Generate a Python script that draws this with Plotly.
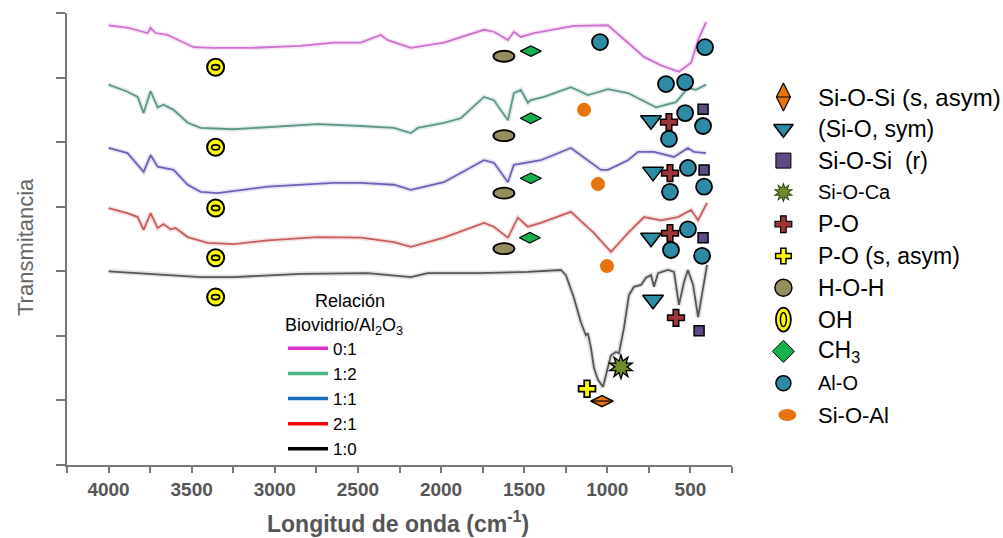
import plotly.graph_objects as go

W, H = 1003, 538

# ---------------- FTIR spectra (wavenumber cm^-1, offset transmittance a.u.) ----------------
wn_01 = [4000, 3880, 3765, 3747, 3717, 3645, 3555, 3488, 3368, 3145, 2844, 2646, 2483, 2363, 2320,
         2182, 1983, 1742, 1682, 1598, 1562, 1520, 1442, 1279, 1201, 996, 876, 779, 677, 569, 496, 454, 406]
t_01 = [6.81, 6.77, 6.69, 6.77, 6.69, 6.66, 6.55, 6.47, 6.46, 6.46, 6.49, 6.54, 6.54, 6.66, 6.58,
        6.46, 6.54, 6.74, 6.71, 6.58, 6.71, 6.63, 6.69, 6.77, 6.80, 6.81, 6.54, 6.32, 6.19, 6.09, 6.23, 6.58, 6.86]

wn_12 = [4000, 3886, 3825, 3789, 3747, 3705, 3669, 3609, 3524, 3446, 3248, 3043, 2742, 2483, 2284, 2182,
         2140, 1983, 1881, 1742, 1682, 1598, 1562, 1520, 1478, 1460, 1381, 1219, 1116, 996, 876, 707, 587,
         515, 467, 406]
t_12 = [5.89, 5.78, 5.70, 5.45, 5.79, 5.54, 5.58, 5.50, 5.30, 5.22, 5.20, 5.23, 5.28, 5.25, 5.22, 5.14,
        5.22, 5.30, 5.37, 5.70, 5.65, 5.34, 5.76, 5.81, 5.61, 5.65, 5.70, 5.85, 5.73, 5.82, 5.76, 5.54, 5.62,
        5.84, 5.81, 5.89]

wn_11 = [4000, 3886, 3789, 3747, 3705, 3609, 3524, 3446, 3344, 3043, 2646, 2483, 2284, 2182, 1983, 1742,
         1682, 1598, 1562, 1478, 1400, 1219, 1038, 996, 876, 815, 719, 599, 515, 479, 406]
t_11 = [4.91, 4.83, 4.54, 4.80, 4.62, 4.57, 4.34, 4.23, 4.21, 4.31, 4.37, 4.37, 4.34, 4.26, 4.38, 4.72,
        4.68, 4.38, 4.65, 4.69, 4.72, 4.91, 4.57, 4.57, 4.72, 4.85, 4.85, 4.77, 4.91, 4.85, 4.83]

wn_21 = [4000, 3886, 3825, 3789, 3747, 3705, 3669, 3627, 3597, 3524, 3404, 3248, 3043, 2742, 2483, 2284,
         2182, 1983, 1742, 1682, 1598, 1538, 1478, 1400, 1219, 1080, 978, 876, 779, 677, 575, 496, 454, 400]
t_21 = [3.98, 3.90, 3.84, 3.64, 3.90, 3.67, 3.73, 3.65, 3.67, 3.53, 3.44, 3.42, 3.48, 3.53, 3.52, 3.45,
        3.38, 3.52, 3.75, 3.69, 3.52, 3.83, 3.69, 3.75, 3.92, 3.59, 3.30, 3.59, 3.84, 3.79, 3.84, 3.95, 3.79, 4.06]

wn_10 = [4000, 3789, 3446, 3248, 2844, 2441, 2182, 2080, 1779, 1478, 1279, 1249, 1201, 1159, 1129, 1117,
         1098, 1080, 1056, 1026, 1008, 978, 948, 930, 900, 870, 840, 797, 767, 737, 719, 695, 635, 599,
         569, 539, 515, 484, 454, 424, 400]
t_10 = [3.00, 2.97, 2.91, 2.91, 2.96, 2.97, 2.91, 2.97, 2.97, 2.99, 3.02, 2.94, 2.59, 2.21, 2.01, 2.04,
        1.81, 1.50, 1.32, 1.21, 1.39, 1.70, 1.75, 1.73, 2.12, 2.63, 2.76, 2.79, 2.90, 2.94, 2.76, 2.97, 3.02,
        2.99, 2.48, 2.83, 3.02, 2.79, 2.29, 2.74, 3.10]

ratio_labels = ["0:1", "1:2", "1:1", "2:1", "1:0"]

# ---------------- band assignments (wavenumber, level) ----------------
oh_x = [3356, 3356, 3356, 3356, 3356]
oh_y = [6.16, 4.92, 3.98, 3.21, 2.60]
hoh_x = [1622, 1622, 1622, 1622]
hoh_y = [6.33, 5.10, 4.21, 3.35]
ch3_x = [1460, 1460, 1460, 1466]
ch3_y = [6.41, 5.37, 4.44, 3.52]
alo_x = [1044, 412, 647, 532, 532, 424, 629, 515, 418, 623, 515, 617, 430]
alo_y = [6.55, 6.47, 5.90, 5.93, 5.45, 5.25, 5.05, 4.60, 4.31, 4.23, 3.65, 3.33, 3.24]
sioal_x = [1140, 1056, 1002]
sioal_y = [5.50, 4.35, 3.08]
siosym_x = [737, 725, 737, 725]
siosym_y = [5.34, 4.54, 3.52, 2.56]
po_x = [629, 623, 623, 587]
po_y = [5.31, 4.52, 3.59, 2.28]
siosir_x = [424, 418, 424, 448]
siosir_y = [5.51, 4.57, 3.52, 2.08]
sioca_x = [918]
sioca_y = [1.52]
poasym_x = [1122]
poasym_y = [1.18]
siosiasym_x = [1032]
siosiasym_y = [0.99]

band_labels = ["Si-O-Si (s, asym)", "(Si-O, sym)", "Si-O-Si  (r)", "Si-O-Ca", "P-O", "P-O (s, asym)",
               "H-O-H", "OH", "CH<sub>3</sub>", "Al-O", "Si-O-Al"]

# ---------------- styles ----------------
FONT = "Liberation Sans, Arial, sans-serif"
AXIS_GRAY = "#777777"
ORANGE = "#e8730f"
TEAL = "#2e8ba6"
PURPLE = "#5d4a86"
BURST_GREEN = "#6e8c2c"
PO_RED = "#9e3536"
YELLOW = "#ffff00"
OLIVE = "#978c5b"
CH3_GREEN = "#16b04c"

curve_colors = ["#cf6fcf", "#5a978a", "#6a62b8", "#c95c5c", "#555555"]
legend_colors = ["#e030d0", "#4cb88a", "#1a6cc0", "#ff0000", "#000000"]
label_sizes = [24, 23, 23, 20, 23, 23, 23, 23, 23, 20, 22]

fig = go.Figure()

spectra = [(wn_01, t_01), (wn_12, t_12), (wn_11, t_11), (wn_21, t_21), (wn_10, t_10)]
for (wx, ty), col in zip(spectra, curve_colors):
    # soft halo under each spectrum
    fig.add_trace(go.Scatter(x=wx, y=ty, mode="lines", line=dict(color=col, width=5),
                             opacity=0.16, showlegend=False, hoverinfo="skip"))
    fig.add_trace(go.Scatter(x=wx, y=ty, mode="lines", line=dict(color=col, width=1.8),
                             showlegend=False))

# legend swatches for the mixing ratios
for lab, col in zip(ratio_labels, legend_colors):
    fig.add_trace(go.Scatter(x=[None], y=[None], mode="lines", line=dict(color=col, width=3.5),
                             name=lab, showlegend=True))


def mk(x, y, symbol, size, color, line_w=1.5, line_c="black", angle=0, xa="x", ya="y"):
    fig.add_trace(go.Scatter(x=x, y=y, xaxis=xa, yaxis=ya, mode="markers", cliponaxis=False,
                             showlegend=False,
                             marker=dict(symbol=symbol, size=size, color=color, angle=angle,
                                         line=dict(color=line_c, width=line_w))))


# band markers on the spectra
mk(oh_x, oh_y, "circle", 17, YELLOW, 2)
mk(ch3_x, ch3_y, "diamond-wide", 15, CH3_GREEN, 1.2)
mk(alo_x, alo_y, "circle", 16, TEAL, 1.8)
mk(sioal_x, sioal_y, "circle", 14, ORANGE, 0, ORANGE)
mk(siosym_x, siosym_y, "triangle-down", 18, TEAL, 1.5)
mk(po_x, po_y, "cross", 14, PO_RED, 1.5)
mk(siosir_x, siosir_y, "square", 10, PURPLE, 1.5)
mk(poasym_x, poasym_y, "cross", 14, YELLOW, 1.8)
mk(siosiasym_x, siosiasym_y, "diamond-wide", 16, ORANGE, 1.5)
mk(siosiasym_x, siosiasym_y, "line-ew", 16, "black", 1.2)
# Si-O-Ca starburst: two offset black stars with a green core
mk(sioca_x, sioca_y, "star", 20, "black", 0, "black", 0)
mk(sioca_x, sioca_y, "star", 20, "black", 0, "black", 36)
mk(sioca_x, sioca_y, "star", 14, BURST_GREEN, 0, BURST_GREEN, 0)
mk(sioca_x, sioca_y, "star", 14, BURST_GREEN, 0, BURST_GREEN, 36)

shapes = []


def ellipse(xv, yv, w, h, fill, lw, xr="x", yr="y"):
    shapes.append(dict(type="circle", xref=xr, yref=yr, xsizemode="pixel", ysizemode="pixel",
                       xanchor=xv, yanchor=yv, x0=-w / 2, x1=w / 2, y0=-h / 2, y1=h / 2,
                       fillcolor=fill, line=dict(color="black", width=lw), layer="above"))


for xv, yv in zip(hoh_x, hoh_y):
    ellipse(xv, yv, 21, 11, OLIVE, 1.8)
for xv, yv in zip(oh_x, oh_y):
    ellipse(xv, yv, 8, 5, YELLOW, 1.8)

# ---------------- band key on the right ----------------
KX = 0.165   # symbol column
TX = 0.29    # label column
rows = list(range(len(band_labels)))


def key(row, symbol, size, color, lw=1.5, angle=0):
    mk([KX], [row], symbol, size, color, lw, "black", angle, "x2", "y2")


key(rows[0], "diamond-tall", 20, ORANGE, 1.2)
key(rows[0], "line-ew", 10, "black", 1.0)
key(rows[1], "triangle-down", 17, TEAL, 1.5)
key(rows[2], "square", 15, PURPLE, 1.0)
mk([KX], [rows[3]], "star", 15, "#2f3f10", 0, "#2f3f10", 0, "x2", "y2")
mk([KX], [rows[3]], "star", 15, "#2f3f10", 0, "#2f3f10", 36, "x2", "y2")
mk([KX], [rows[3]], "star", 11, BURST_GREEN, 0, BURST_GREEN, 0, "x2", "y2")
mk([KX], [rows[3]], "star", 11, BURST_GREEN, 0, BURST_GREEN, 36, "x2", "y2")
key(rows[4], "cross", 14, PO_RED, 1.2)
key(rows[5], "cross", 13, YELLOW, 1.5)
key(rows[6], "circle", 17, OLIVE, 1.5)
ellipse(KX, rows[7], 15, 24, YELLOW, 1.8, "x2", "y2")
ellipse(KX, rows[7], 6, 14, YELLOW, 1.5, "x2", "y2")
key(rows[8], "diamond", 17, CH3_GREEN, 1.0)
key(rows[9], "circle", 15, TEAL, 1.5)
shapes.append(dict(type="circle", xref="x2", yref="y2", xsizemode="pixel", ysizemode="pixel",
                   xanchor=KX + 0.015, yanchor=rows[10], x0=-9, x1=9, y0=-6, y1=6,
                   fillcolor=ORANGE, line=dict(width=0)))

annotations = []
for row, lab, fs in zip(rows, band_labels, label_sizes):
    annotations.append(dict(x=TX, y=row, xref="x2", yref="y2", text=lab, showarrow=False,
                            xanchor="left", yanchor="middle",
                            font=dict(family=FONT, size=fs, color="black")))

# axis titles
annotations.append(dict(x=398 / W, y=1 - 522 / H, xref="paper", yref="paper",
                        text="Longitud de onda (cm<sup>-1</sup>)", showarrow=False,
                        xanchor="center", yanchor="middle",
                        font=dict(family=FONT, size=23, color="#555555", weight="bold")))
annotations.append(dict(x=25 / W, y=1 - 247 / H, xref="paper", yref="paper",
                        text="Transmitancia", showarrow=False, textangle=-90,
                        xanchor="center", yanchor="middle",
                        font=dict(family="Liberation Sans Narrow, " + FONT, size=22, color="#666666")))

fig.update_layout(
    width=W, height=H,
    margin=dict(l=0, r=0, t=0, b=0),
    paper_bgcolor="white", plot_bgcolor="white",
    font=dict(family=FONT, color="black"),
    xaxis=dict(domain=[67 / W, 732 / W], range=[4250, 250], anchor="y",
               showline=True, linecolor=AXIS_GRAY, linewidth=2, mirror=False,
               ticks="outside", ticklen=6, tickwidth=1.5, tickcolor=AXIS_GRAY,
               tick0=0, dtick=500, showgrid=False, zeroline=False,
               minor=dict(dtick=250, ticks="outside", ticklen=6, tickwidth=1.5, tickcolor=AXIS_GRAY),
               tickfont=dict(family=FONT, size=19, color="#555555", weight="bold")),
    yaxis=dict(domain=[1 - 465 / H, 1 - 13 / H], range=[0, 7], anchor="x",
               showline=True, linecolor=AXIS_GRAY, linewidth=2,
               ticks="outside", ticklen=9, tickwidth=1.5, tickcolor=AXIS_GRAY,
               tick0=0, dtick=1, showticklabels=False, showgrid=False, zeroline=False),
    xaxis2=dict(domain=[740 / W, 1.0], range=[0, 1], anchor="y2", visible=False),
    yaxis2=dict(domain=[0, 1], range=[(H - 97) / 31.8, -97 / 31.8], anchor="x2", visible=False),
    legend=dict(x=283 / W, y=1 - 284 / H, xanchor="left", yanchor="top",
                bgcolor="rgba(0,0,0,0)", itemwidth=40, tracegroupgap=0,
                font=dict(family=FONT, size=17, color="black"),
                title=dict(text="&nbsp;&nbsp;&nbsp;&nbsp;&nbsp;&nbsp;Relación<br>Biovidrio/Al<sub>2</sub>O<sub>3</sub>",
                           side="top",
                           font=dict(family=FONT, size=18, color="black"))),
    shapes=shapes,
    annotations=annotations,
    showlegend=True,
)

fig.write_html("out.html")
